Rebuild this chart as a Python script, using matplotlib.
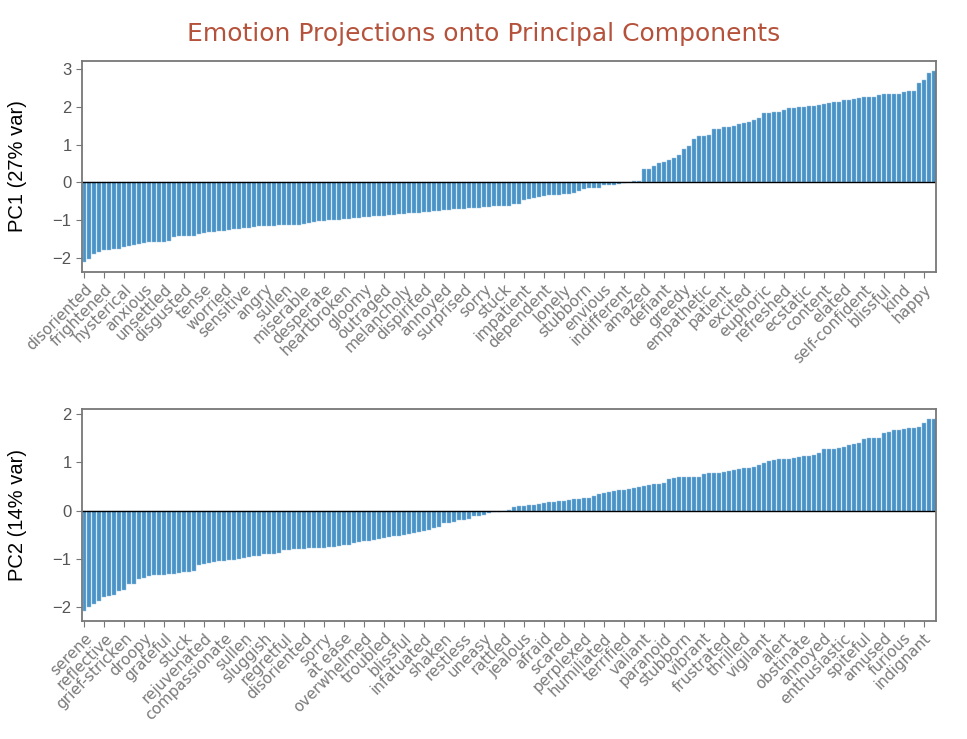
import numpy as np
import matplotlib
matplotlib.use('Agg')
import matplotlib.pyplot as plt

# PC1 projections, sorted ascending (171 emotions)
pc1_values = [
    -2.12, -2.03, -1.89, -1.84, -1.80, -1.78, -1.77, -1.76, -1.71, -1.68,
    -1.65, -1.63, -1.61, -1.59, -1.58, -1.57, -1.57, -1.56, -1.44, -1.43,
    -1.43, -1.42, -1.41, -1.38, -1.35, -1.32, -1.31, -1.30, -1.29, -1.27,
    -1.24, -1.23, -1.21, -1.20, -1.18, -1.17, -1.16, -1.16, -1.15, -1.14,
    -1.14, -1.14, -1.13, -1.12, -1.10, -1.08, -1.05, -1.03, -1.02, -1.01,
    -1.00, -0.99, -0.98, -0.97, -0.95, -0.94, -0.93, -0.92, -0.90, -0.89,
    -0.88, -0.87, -0.86, -0.85, -0.83, -0.81, -0.80, -0.80, -0.79, -0.78,
    -0.76, -0.75, -0.74, -0.72, -0.71, -0.70, -0.70, -0.69, -0.68, -0.67,
    -0.66, -0.65, -0.64, -0.63, -0.63, -0.62, -0.58, -0.57, -0.48, -0.45,
    -0.42, -0.39, -0.36, -0.34, -0.33, -0.33, -0.32, -0.32, -0.27, -0.24,
    -0.18, -0.16, -0.16, -0.16, -0.08, -0.08, -0.08, -0.04, -0.01, 0.01,
    0.03, 0.04, 0.35, 0.35, 0.42, 0.50, 0.53, 0.59, 0.65, 0.73,
    0.88, 0.96, 1.15, 1.23, 1.23, 1.26, 1.41, 1.42, 1.46, 1.47,
    1.50, 1.54, 1.58, 1.61, 1.65, 1.70, 1.83, 1.84, 1.86, 1.87,
    1.92, 1.96, 1.97, 2.00, 2.00, 2.03, 2.03, 2.04, 2.07, 2.11,
    2.13, 2.13, 2.18, 2.18, 2.21, 2.23, 2.26, 2.26, 2.27, 2.30,
    2.34, 2.35, 2.35, 2.35, 2.40, 2.42, 2.42, 2.63, 2.71, 2.89,
    2.96,
]

# PC2 projections, sorted ascending
pc2_values = [
    -2.08, -1.99, -1.94, -1.87, -1.79, -1.77, -1.75, -1.66, -1.64, -1.52,
    -1.51, -1.42, -1.39, -1.36, -1.34, -1.34, -1.34, -1.32, -1.31, -1.29,
    -1.28, -1.27, -1.26, -1.13, -1.10, -1.09, -1.07, -1.05, -1.04, -1.03,
    -1.02, -1.00, -0.98, -0.96, -0.94, -0.93, -0.90, -0.89, -0.89, -0.87,
    -0.82, -0.81, -0.80, -0.80, -0.79, -0.78, -0.78, -0.78, -0.77, -0.76,
    -0.75, -0.74, -0.72, -0.71, -0.68, -0.66, -0.64, -0.62, -0.60, -0.58,
    -0.57, -0.55, -0.53, -0.53, -0.51, -0.48, -0.46, -0.44, -0.42, -0.40,
    -0.37, -0.35, -0.26, -0.25, -0.23, -0.19, -0.19, -0.18, -0.12, -0.11,
    -0.09, -0.06, -0.04, -0.02, -0.01, 0.01, 0.07, 0.10, 0.10, 0.12,
    0.12, 0.13, 0.15, 0.17, 0.17, 0.19, 0.19, 0.21, 0.23, 0.24,
    0.25, 0.26, 0.30, 0.35, 0.37, 0.39, 0.40, 0.42, 0.42, 0.44,
    0.46, 0.48, 0.51, 0.52, 0.54, 0.55, 0.56, 0.65, 0.67, 0.69,
    0.69, 0.70, 0.70, 0.70, 0.75, 0.77, 0.77, 0.78, 0.79, 0.81,
    0.83, 0.85, 0.87, 0.87, 0.90, 0.94, 0.98, 1.02, 1.04, 1.06,
    1.06, 1.07, 1.09, 1.10, 1.13, 1.13, 1.15, 1.20, 1.27, 1.27,
    1.27, 1.30, 1.32, 1.36, 1.38, 1.40, 1.47, 1.50, 1.50, 1.51,
    1.60, 1.62, 1.67, 1.67, 1.69, 1.70, 1.71, 1.73, 1.82, 1.90,
    1.90,
]

# every 4th emotion is labelled
pc1_labels = ['disoriented', 'frightened', 'hysterical', 'anxious', 'unsettled',
              'disgusted', 'tense', 'worried', 'sensitive', 'angry', 'sullen',
              'miserable', 'desperate', 'heartbroken', 'gloomy', 'outraged',
              'melancholy', 'dispirited', 'annoyed', 'surprised', 'sorry', 'stuck',
              'impatient', 'dependent', 'lonely', 'stubborn', 'envious',
              'indifferent', 'amazed', 'defiant', 'greedy', 'empathetic', 'patient',
              'excited', 'euphoric', 'refreshed', 'ecstatic', 'content', 'elated',
              'self-confident', 'blissful', 'kind', 'happy']
pc2_labels = ['serene', 'reflective', 'grief-stricken', 'droopy', 'grateful', 'stuck',
              'rejuvenated', 'compassionate', 'sullen', 'sluggish', 'regretful',
              'disoriented', 'sorry', 'at ease', 'overwhelmed', 'troubled', 'blissful',
              'infatuated', 'shaken', 'restless', 'uneasy', 'rattled', 'jealous',
              'afraid', 'scared', 'perplexed', 'humiliated', 'terrified', 'valiant',
              'paranoid', 'stubborn', 'vibrant', 'frustrated', 'thrilled', 'vigilant',
              'alert', 'obstinate', 'annoyed', 'enthusiastic', 'spiteful', 'amused',
              'furious', 'indignant']

plt.rcParams['font.family'] = ['Liberation Sans', 'DejaVu Sans']

fig = plt.figure(figsize=(9.67, 7.39), dpi=100)
ax1 = fig.add_axes([0.0848, 0.632, 0.8832, 0.2855])
ax2 = fig.add_axes([0.0848, 0.160, 0.8832, 0.2865])

panels = [(ax1, pc1_values, pc1_labels, 'PC1 (27% var)'),
          (ax2, pc2_values, pc2_labels, 'PC2 (14% var)')]

for ax, vals, labs, ylab in panels:
    x = np.arange(len(vals))
    ax.bar(x, vals, width=0.8, color='#4a93c6', edgecolor='#9ac3e2', linewidth=0.3)
    ax.axhline(0, color='black', linewidth=1)
    ax.set_xlim(-0.5, len(vals) - 0.5)
    ax.set_xticks(x[::4])
    ax.set_xticklabels(labs, rotation=45, ha='right', rotation_mode='anchor',
                       fontsize=11, color='#7a7a7a', family='DejaVu Sans')
    ax.set_ylabel(ylab, fontsize=14.5, color='black')
    ax.yaxis.set_label_coords(-0.064, 0.5)
    ax.tick_params(axis='y', labelsize=12, labelcolor='#555555', color='#777777', length=4)
    ax.tick_params(axis='x', color='#777777', length=4, pad=3)
    for sp in ax.spines.values():
        sp.set_color('#777777')
        sp.set_linewidth(1.3)

fig.text(0.5, 0.954, 'Emotion Projections onto Principal Components', fontsize=18,
         color='#b5523b', family='DejaVu Sans', ha='center', va='center')

plt.savefig('out.png', dpi=100)
